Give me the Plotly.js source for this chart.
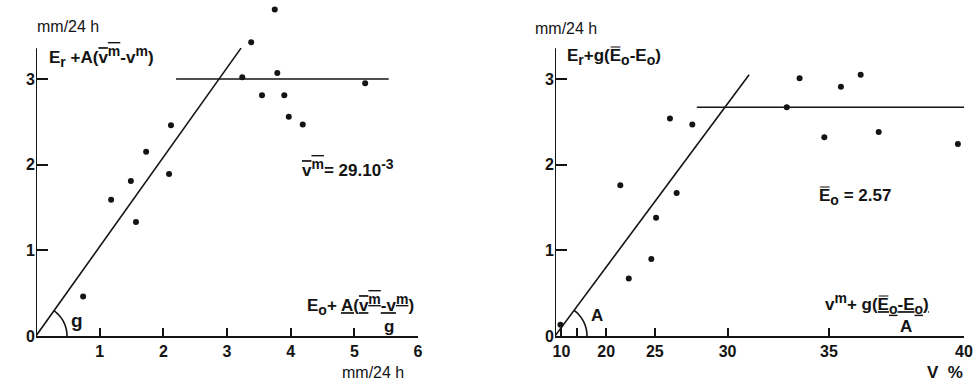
<!DOCTYPE html>
<html>
<head>
<meta charset="utf-8">
<script src="https://cdn.plot.ly/plotly-3.0.1.min.js"></script>
<style>
  html, body { margin: 0; padding: 0; background: #fff; }
  #chart { width: 978px; height: 387px; }
</style>
</head>
<body>
<div id="chart"></div>
<script>
// Left panel: Er + A(vm_bar - vm) against Eo + A(vm_bar - vm)/g  (mm/24 h)
const leftX = [3.75, 3.38, 3.24, 3.79, 5.17, 3.55, 3.90, 3.97, 4.19, 2.12, 1.73, 2.09, 1.49, 1.18, 1.57, 0.74];
const leftY = [3.81, 3.43, 3.02, 3.07, 2.95, 2.81, 2.81, 2.56, 2.47, 2.46, 2.15, 1.89, 1.81, 1.59, 1.33, 0.46];
const leftSlopeX = [0, 3.22];
const leftSlopeY = [0, 3.36];
const leftFlatX = [2.2, 5.54];
const leftFlatY = [3, 3];

// Right panel: Er + g(Eo_bar - Eo) against V % (axis drawn as v^m, m = 3)
const rightV = [33.7, 35.5, 36.3, 33.1, 34.8, 37.0, 39.8, 26.2, 27.8, 21.7, 26.7, 25.1, 24.7, 22.6, 9.5];
const rightY = [3.01, 2.91, 3.05, 2.67, 2.32, 2.38, 2.24, 2.54, 2.47, 1.76, 1.67, 1.38, 0.90, 0.67, 0.13];
const rightSlopeV = [0, 31.2];
const rightSlopeY = [0, 3.05];
const rightFlatV = [28.1, 40];
const rightFlatY = [2.67, 2.67];

const leftTicksX = [1, 2, 3, 4, 5, 6];
const rightTicksV = [10, 15, 20, 25, 30, 35, 40];
const rightTickText = ['10', '', '20', '25', '30', '35', '40'];
const yTicks = [0, 1, 2, 3];
const yTickText = ['0', '1', '2', '3'];
const yAxisTop = 3.36; // drawn vertical axis stops here

const M = 3; // exponent of the right x scale
const pw = p => Math.pow(p, M);

// page geometry
const W = 978, H = 387;
const mg = { l: 36, r: 14, t: 4, b: 51 };
const plotW = W - mg.l - mg.r, plotH = H - mg.t - mg.b;
const leftDom = [0, 382 / plotW];
const rightDom = [(555 - mg.l) / plotW, 1];
const pxY = 85.67;
const yTop = plotH / pxY;
const xMaxL = 6, xMaxR = pw(40);

// annotation placed at page pixel coordinates
function at(px, py) {
    return { x: (px - mg.l) / plotW, y: (H - mg.b - py) / plotH, xref: 'paper', yref: 'paper' };
}

const ink = '#141414';
const family = 'Liberation Sans, Arial, sans-serif';
const font = { family: family, size: 16, color: ink };
const boldFont = { family: family, size: 17, color: ink, weight: 'bold' };
const tickFont = { family: family, size: 16, color: ink, weight: 'bold' };

function note(px, py, text, opts) {
    return Object.assign(at(px, py), {
        text: text, showarrow: false, xanchor: 'left', yanchor: 'middle',
        font: boldFont
    }, opts || {});
}

// small angle arc at the origin of each panel, built in pixel space
function arcPath(xref, yref, pxPerX, angle, r) {
    let d = '';
    for (let i = 0; i <= 24; i++) {
        const a = angle * i / 24;
        const x = r * Math.cos(a) / pxPerX;
        const y = r * Math.sin(a) / pxY;
        d += (i === 0 ? 'M' : 'L') + x + ',' + y;
    }
    return { type: 'path', xref: xref, yref: yref, path: d, line: { color: ink, width: 1.6 } };
}

function yLine(xref, yref) {
    return { type: 'line', xref: xref, yref: yref, x0: 0, x1: 0, y0: 0, y1: yAxisTop,
        line: { color: ink, width: 2 } };
}

const pxXL = (leftDom[1] - leftDom[0]) * plotW / xMaxL;
const pxXR = (rightDom[1] - rightDom[0]) * plotW / xMaxR;
const angL = Math.atan2(leftSlopeY[1] * pxY, leftSlopeX[1] * pxXL);
const angR = Math.atan2(rightSlopeY[1] * pxY, pw(rightSlopeV[1]) * pxXR);

const dots = { size: 6, color: ink };
const stroke = { color: ink, width: 1.6 };

const data = [
    { x: leftX, y: leftY, type: 'scatter', mode: 'markers', marker: dots, cliponaxis: false, xaxis: 'x', yaxis: 'y' },
    { x: leftSlopeX, y: leftSlopeY, type: 'scatter', mode: 'lines', line: stroke, xaxis: 'x', yaxis: 'y' },
    { x: leftFlatX, y: leftFlatY, type: 'scatter', mode: 'lines', line: stroke, xaxis: 'x', yaxis: 'y' },
    { x: rightV.map(pw), y: rightY, type: 'scatter', mode: 'markers', marker: dots, cliponaxis: false, xaxis: 'x2', yaxis: 'y2' },
    { x: rightSlopeV.map(pw), y: rightSlopeY, type: 'scatter', mode: 'lines', line: stroke, xaxis: 'x2', yaxis: 'y2' },
    { x: rightFlatV.map(pw), y: rightFlatY, type: 'scatter', mode: 'lines', line: stroke, xaxis: 'x2', yaxis: 'y2' }
];

const axisBase = {
    showgrid: false, zeroline: false, linecolor: ink, linewidth: 2,
    ticks: 'inside', tickcolor: ink, tickwidth: 2, tickfont: tickFont, fixedrange: true
};

// text helpers: overline, and larger-than-default sub/superscripts
const ov = s => '<span style="text-decoration:overline">' + s + '</span>';
const sb = s => '<sub><span style="font-size:14px">' + s + '</span></sub>';
const sp = s => '<sup><span style="font-size:14px">' + s + '</span></sup>';
const eBar = 'E\u033F';
const vm = 'v' + sp('m');

const layout = {
    width: W, height: H,
    margin: mg,
    paper_bgcolor: '#fff', plot_bgcolor: '#fff',
    showlegend: false,
    font: font,
    xaxis: Object.assign({}, axisBase, {
        domain: leftDom, range: [0, xMaxL], showline: true, tickmode: 'array', tickvals: leftTicksX, ticklen: 8, anchor: 'y'
    }),
    yaxis: Object.assign({}, axisBase, {
        domain: [0, 1], range: [0, yTop], showline: false, tickmode: 'array', tickvals: yTicks, ticktext: yTickText, ticklen: 12, anchor: 'x'
    }),
    xaxis2: Object.assign({}, axisBase, {
        domain: rightDom, range: [0, xMaxR], showline: true, tickmode: 'array', tickvals: rightTicksV.map(pw), ticktext: rightTickText, ticklen: 8, anchor: 'y2'
    }),
    yaxis2: Object.assign({}, axisBase, {
        domain: [0, 1], range: [0, yTop], showline: false, tickmode: 'array', tickvals: yTicks, ticktext: yTickText, ticklen: 12, anchor: 'x2'
    }),
    shapes: [
        yLine('x', 'y'),
        yLine('x2', 'y2'),
        arcPath('x', 'y', pxXL, angL, 31),
        arcPath('x2', 'y2', pxXR, angR, 32)
    ],
    annotations: [
        note(35, 27, 'mm/24 h', { font: font }),
        note(47, 57, 'E' + sb('r') + ' +A(' + ov(vm) + '-' + vm + ')'),
        note(300, 168, ov(vm) + '= 29.10' + sp('-3')),
        note(305, 304, 'E' + sb('o') + '+ <u>A(' + ov(vm) + '-' + vm + ')</u>'),
        note(389, 326, 'g', { xanchor: 'center' }),
        note(77, 320, 'g', { xanchor: 'center', font: Object.assign({}, boldFont, { size: 19 }) }),
        note(340, 372, 'mm/24 h', { font: font }),
        note(533, 28, 'mm/24 h', { font: font }),
        note(565, 57, 'E' + sb('r') + '+g(' + eBar + sb('o') + '-E' + sb('o') + ')'),
        note(817, 197, eBar + sb('o') + ' = 2.57'),
        note(823, 303, vm + '+ <u>g(' + eBar + sb('o') + '-E' + sb('o') + ')</u>'),
        note(906, 326, 'A', { xanchor: 'center' }),
        note(597, 315, 'A', { xanchor: 'center' }),
        note(925, 372, 'V  %')
    ]
};

Plotly.newPlot('chart', data, layout, { staticPlot: true, displayModeBar: false });
</script>
</body>
</html>
